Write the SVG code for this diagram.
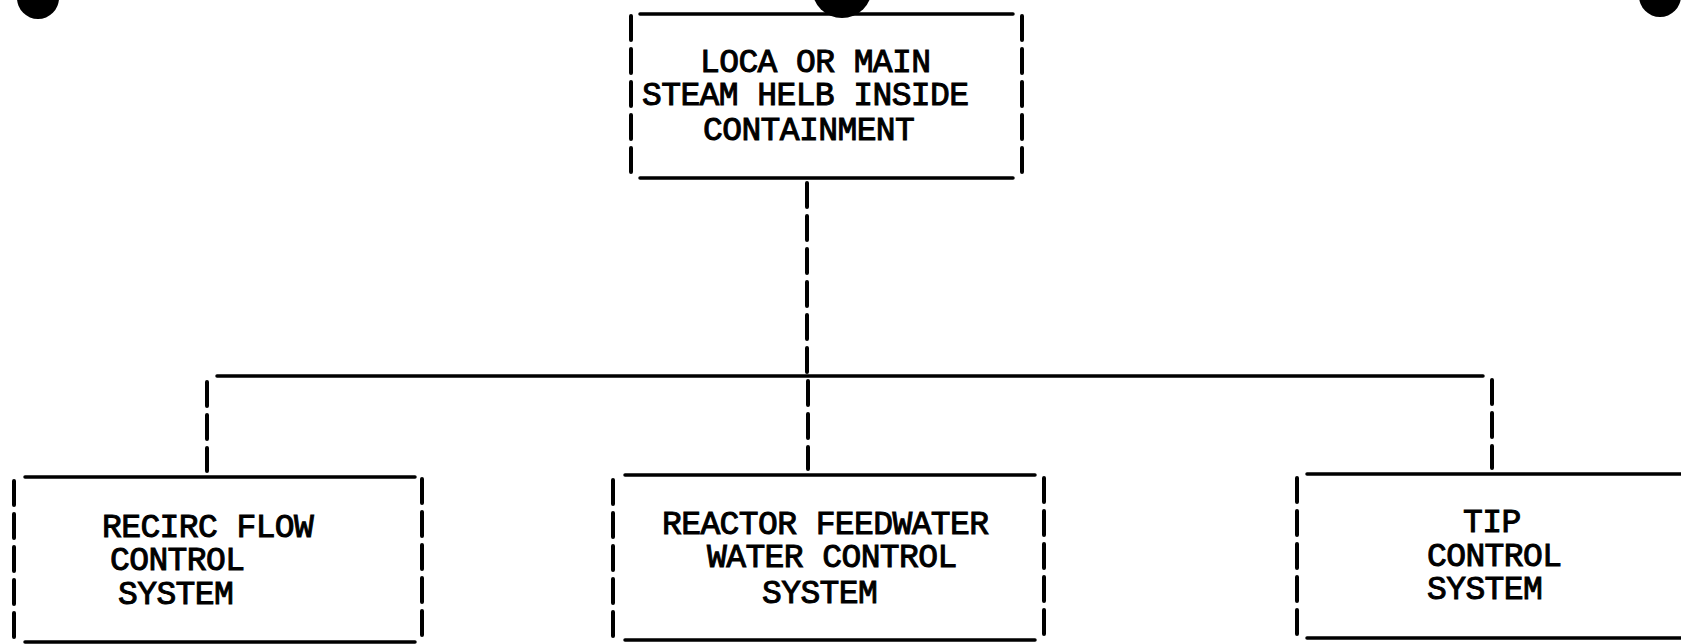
<svg xmlns="http://www.w3.org/2000/svg" width="1681" height="644" viewBox="0 0 1681 644">
<style>
.solid{stroke:#000;stroke-width:3.5;fill:none;stroke-linecap:round}
.dash{stroke:#000;stroke-width:4;fill:none;stroke-dasharray:24 9;stroke-linecap:round}
.t{font-family:"Liberation Mono","Courier New",monospace;font-size:33px;letter-spacing:-0.6px;fill:#000;stroke:#000;stroke-width:1}
.hole{fill:#000}
</style>
<rect width="1681" height="644" fill="#fff"/>
<g id="punch-holes">
<circle class="hole" cx="38" cy="-2" r="21"/>
<circle class="hole" cx="842" cy="-12" r="30"/>
<circle class="hole" cx="1660" cy="-4" r="21"/>
</g>
<g id="connectors">
<line class="dash" x1="807" y1="183" x2="807" y2="372"/>
<line class="solid" x1="217" y1="376" x2="1483" y2="376"/>
<line class="dash" x1="207" y1="382" x2="207" y2="471"/>
<line class="dash" x1="808" y1="381" x2="808" y2="469"/>
<line class="dash" x1="1492" y1="380" x2="1492" y2="468"/>
</g>
<g id="node-loca">
<line class="solid" x1="640" y1="14" x2="1013" y2="14"/>
<line class="solid" x1="640" y1="178" x2="1013" y2="178"/>
<line class="dash" x1="631" y1="16" x2="631" y2="175"/>
<line class="dash" x1="1022" y1="16" x2="1022" y2="175"/>
<text class="t" x="700" y="72">LOCA OR MAIN</text>
<text class="t" x="642" y="105">STEAM HELB INSIDE</text>
<text class="t" x="703" y="140">CONTAINMENT</text>
</g>
<g id="node-recirc">
<line class="solid" x1="25" y1="477" x2="415" y2="477"/>
<line class="solid" x1="25" y1="642" x2="415" y2="642"/>
<line class="dash" x1="14" y1="481" x2="14" y2="640"/>
<line class="dash" x1="422" y1="479" x2="422" y2="640"/>
<text class="t" x="102" y="537">RECIRC FLOW</text>
<text class="t" x="110" y="570">CONTROL</text>
<text class="t" x="118" y="604">SYSTEM</text>
</g>
<g id="node-feedwater">
<line class="solid" x1="625" y1="475" x2="1035" y2="475"/>
<line class="solid" x1="625" y1="640" x2="1035" y2="640"/>
<line class="dash" x1="613" y1="480" x2="613" y2="636"/>
<line class="dash" x1="1044" y1="478" x2="1044" y2="636"/>
<text class="t" x="662" y="534">REACTOR FEEDWATER</text>
<text class="t" x="707" y="567">WATER CONTROL</text>
<text class="t" x="762" y="603">SYSTEM</text>
</g>
<g id="node-tip">
<line class="solid" x1="1307" y1="474" x2="1681" y2="474"/>
<line class="solid" x1="1307" y1="638" x2="1681" y2="638"/>
<line class="dash" x1="1297" y1="478" x2="1297" y2="634"/>
<text class="t" x="1463" y="532">TIP</text>
<text class="t" x="1427" y="566">CONTROL</text>
<text class="t" x="1427" y="599">SYSTEM</text>
</g>
</svg>
